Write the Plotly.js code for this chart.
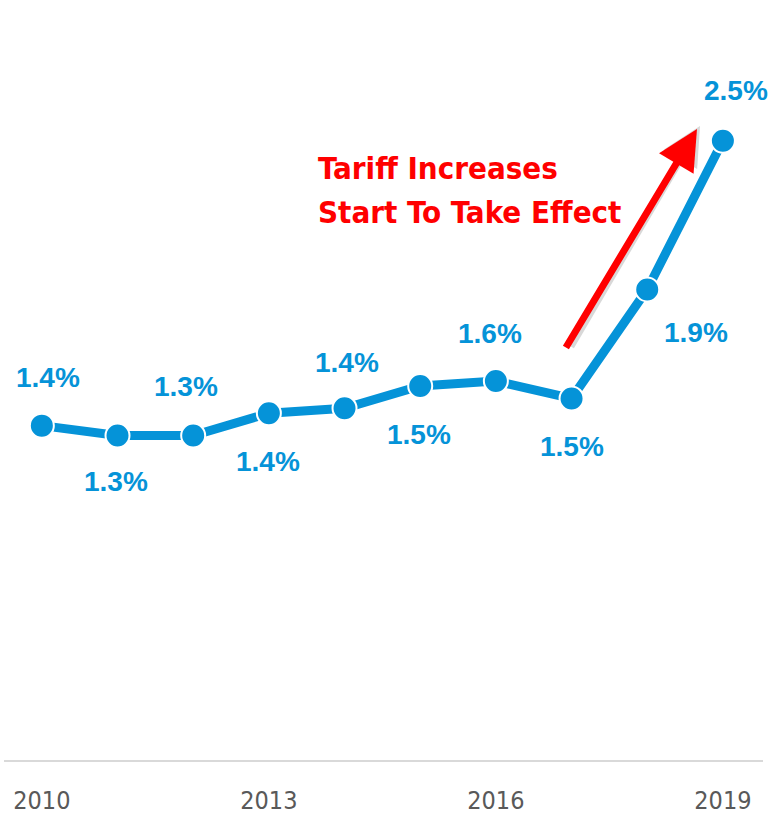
<!DOCTYPE html>
<html>
<head>
<meta charset="utf-8">
<script src="https://cdn.plot.ly/plotly-3.0.1.min.js"></script>
<style>
  html, body { margin: 0; padding: 0; background: #ffffff; }
  #chart { width: 773px; height: 817px; }
</style>
</head>
<body>
<div id="chart"></div>
<script>
// ---- data ----
const years = [2010, 2011, 2012, 2013, 2014, 2015, 2016, 2017, 2018, 2019];
const values = [1.35, 1.31, 1.31, 1.40, 1.42, 1.51, 1.53, 1.46, 1.90, 2.50];
const valueLabels = ['1.4%', '1.3%', '1.3%', '1.4%', '1.4%', '1.5%', '1.6%', '1.5%', '1.9%', '2.5%'];
const tickYears = [2010, 2013, 2016, 2019];
const tickLabels = ['2010', '2013', '2016', '2019'];
const calloutLines = ['Tariff Increases', 'Start To Take Effect'];

// ---- label placement (style) ----
const labelShift = [
  [6, 48], [-2, -46], [-7, 49], [-1, -48], [2, 46],
  [-1, -48], [-6, 48], [0, -48], [49, -43], [13, 50]
];

const blue = '#0593d8';

const annotations = years.map((yr, i) => ({
  x: yr, y: values[i], xref: 'x', yref: 'y',
  text: valueLabels[i], showarrow: false,
  xshift: labelShift[i][0], yshift: labelShift[i][1],
  font: { family: '"Liberation Sans", Arial, sans-serif', size: 28, color: blue, weight: 'bold' }
}));

// arrow shadow
annotations.push({
  xref: 'paper', yref: 'paper', x: (700 - 4) / 759, y: (760 - 126) / 743,
  axref: 'pixel', ayref: 'pixel', ax: -130, ay: 222,
  showarrow: true, arrowhead: 2, arrowsize: 1.1, arrowwidth: 7,
  arrowcolor: 'rgba(0,0,0,0.15)', text: ''
});
// red arrow
annotations.push({
  xref: 'paper', yref: 'paper', x: (697 - 4) / 759, y: (760 - 129) / 743,
  axref: 'pixel', ayref: 'pixel', ax: -132, ay: 220,
  showarrow: true, arrowhead: 2, arrowsize: 1.15, arrowwidth: 7,
  arrowcolor: '#ff0000', text: ''
});
// callout text, one annotation per line
const calloutY = [168, 212];
calloutLines.forEach((t, i) => {
  annotations.push({
    xref: 'paper', yref: 'paper', x: (316 - 4) / 759, y: (760 - calloutY[i]) / 743,
    xanchor: 'left', yanchor: 'middle', align: 'left', showarrow: false,
    text: t,
    font: { family: '"DejaVu Sans Condensed", "Liberation Sans", sans-serif', size: 31, color: '#ff0000', weight: 'bold' }
  });
});

const trace = {
  x: years, y: values, type: 'scatter', mode: 'lines+markers',
  line: { color: blue, width: 9 },
  marker: { color: blue, size: 24, line: { color: '#ffffff', width: 2 } },
  hoverinfo: 'skip', cliponaxis: false
};

const layout = {
  width: 773, height: 817,
  margin: { l: 4, r: 10, t: 17, b: 57 },
  paper_bgcolor: '#ffffff', plot_bgcolor: '#ffffff',
  showlegend: false,
  xaxis: {
    range: [2009.5, 2019.53],
    tickmode: 'array', tickvals: tickYears, ticktext: tickLabels,
    showgrid: false, zeroline: false,
    showline: true, linecolor: '#d9d9d9', linewidth: 2,
    ticks: 'outside', ticklen: 17, tickcolor: 'rgba(0,0,0,0)',
    tickfont: { family: '"DejaVu Sans Condensed", "Liberation Sans", sans-serif', size: 25, color: '#595959' }
  },
  yaxis: {
    range: [0, 3], visible: false, showgrid: false, zeroline: false
  },
  annotations: annotations
};

Plotly.newPlot('chart', [trace], layout, { staticPlot: true, displayModeBar: false });
</script>
</body>
</html>
